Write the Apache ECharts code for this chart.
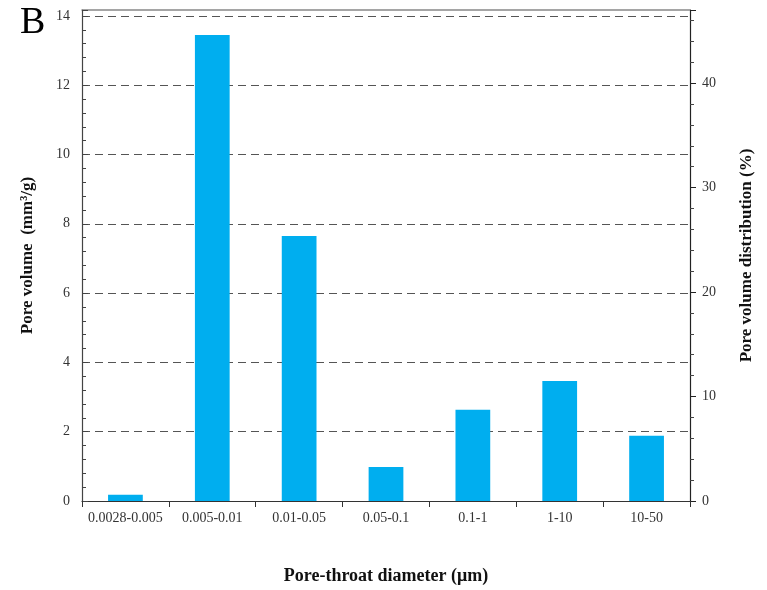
<!DOCTYPE html>
<html>
<head>
<meta charset="utf-8">
<script src="https://cdn.jsdelivr.net/npm/echarts@6/dist/echarts.min.js"></script>
<style>
  html, body { margin: 0; padding: 0; background: #fff; }
  #chart { width: 767px; height: 590px; }
</style>
</head>
<body>
<div id="chart"></div>
<script>
// Pore-throat diameter classes (µm)
const categories = ['0.0028-0.005', '0.005-0.01', '0.01-0.05', '0.05-0.1', '0.1-1', '1-10', '10-50'];
// Pore volume per class (mm³/g)
const poreVolume = [0.18, 13.45, 7.65, 0.98, 2.63, 3.46, 1.88];
// Axis ranges
const volumeMax = 14.17;
const distributionMax = 47;

const serif = '"Liberation Serif", "DejaVu Serif", serif';
const chart = echarts.init(document.getElementById('chart'));

chart.setOption({
  animation: false,
  backgroundColor: '#fff',
  textStyle: { fontFamily: serif },
  grid: { left: 82, right: 77, top: 10, bottom: 86, containLabel: false },
  graphic: [{
    type: 'text', left: 20, top: 4,
    style: { text: 'B', font: '38px ' + serif, fill: '#000' }
  }],
  xAxis: [{
    type: 'category',
    data: categories,
    name: 'Pore-throat diameter (μm)',
    nameLocation: 'middle',
    nameGap: 66,
    nameTextStyle: { fontFamily: serif, fontWeight: 'bold', fontSize: 18, color: '#111' },
    axisLine: { lineStyle: { color: '#333', width: 1.2 } },
    axisTick: { show: true, length: 6, lineStyle: { color: '#333' } },
    axisLabel: { fontFamily: serif, fontSize: 14, color: '#333', margin: 10, interval: 0 }
  }, {
    // plain frame line along the top of the plot
    type: 'category',
    position: 'top',
    data: categories,
    axisLine: { show: true, onZero: false, lineStyle: { color: '#888', width: 1.5 } },
    axisTick: { show: false },
    axisLabel: { show: false }
  }],
  yAxis: [{
    type: 'value',
    min: 0, max: volumeMax, interval: 2,
    name: 'Pore volume  (mm³/g)',
    nameLocation: 'middle',
    nameGap: 46,
    nameTextStyle: { fontFamily: serif, fontWeight: 'bold', fontSize: 17, color: '#111' },
    axisLine: { show: true, lineStyle: { color: '#444', width: 1.2 } },
    axisTick: { show: true, inside: true, length: 6, lineStyle: { color: '#444' } },
    minorTick: { show: true, splitNumber: 5, length: 4, lineStyle: { color: '#444' } },
    axisLabel: {
      fontFamily: serif, fontSize: 14, color: '#333', margin: 12,
      formatter: v => (Math.abs(v - volumeMax) < 1e-6 ? '' : v)
    },
    splitLine: { show: true, showMaxLine: false, showMinLine: false, lineStyle: { color: '#555', type: [8, 5], width: 1.2 } }
  }, {
    type: 'value',
    position: 'right',
    min: 0, max: distributionMax, interval: 10,
    name: 'Pore volume distribution (%)',
    nameLocation: 'middle',
    nameGap: 48,
    nameRotate: 90,
    nameTextStyle: { fontFamily: serif, fontWeight: 'bold', fontSize: 17, color: '#111' },
    axisLine: { show: true, lineStyle: { color: '#222', width: 1.2 } },
    axisTick: { show: true, length: 6, lineStyle: { color: '#222' } },
    minorTick: { show: true, splitNumber: 5, length: 4, lineStyle: { color: '#444' } },
    axisLabel: {
      fontFamily: serif, fontSize: 14, color: '#333', margin: 12,
      formatter: v => (v === distributionMax ? '' : v)
    },
    splitLine: { show: false }
  }],
  series: [{
    type: 'bar',
    xAxisIndex: 0,
    yAxisIndex: 0,
    data: poreVolume,
    barWidth: '40%',
    itemStyle: { color: '#00AEEF' }
  }]
});
</script>
</body>
</html>
